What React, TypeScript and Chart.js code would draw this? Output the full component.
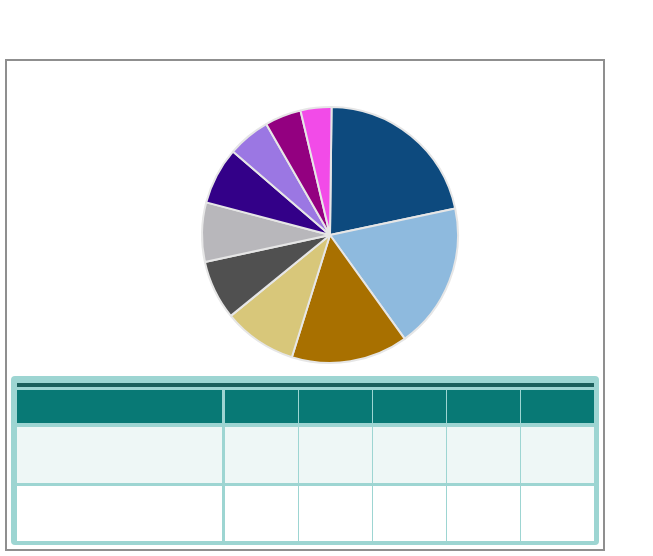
import React, { useEffect, useRef } from "react";
import { Chart, registerables } from "chart.js";

Chart.register(...registerables);

const categories = ["A", "B", "C", "D", "E", "F", "G", "H", "I", "J"];
const values = [21.5, 18.4, 14.75, 9.3, 7.5, 7.5, 7.2, 5.4, 4.6, 3.9];
const colors = [
  "#0D4A7E",
  "#8EBADE",
  "#A87000",
  "#D8C77A",
  "#505050",
  "#B8B7BB",
  "#330088",
  "#9B77E3",
  "#930080",
  "#F24BE8",
];

const tableColumns = [
  { left: 17, width: 205 },
  { left: 225, width: 73 },
  { left: 299, width: 73 },
  { left: 373, width: 73 },
  { left: 447, width: 73 },
  { left: 521, width: 73 },
];

const tableRows = [
  { top: 390, height: 33, bg: "#087975" },
  { top: 427, height: 56, bg: "#EEF7F6" },
  { top: 486, height: 55, bg: "#FFFFFF" },
];

export default function App() {
  const ref = useRef<HTMLCanvasElement | null>(null);

  useEffect(() => {
    if (!ref.current) return;
    const chart = new Chart(ref.current, {
      type: "pie",
      data: {
        labels: categories,
        datasets: [
          {
            data: values,
            backgroundColor: colors,
            borderColor: "#E6E6E6",
            borderWidth: 2,
          },
        ],
      },
      options: {
        responsive: false,
        animation: false,
        rotation: 0.7,
        layout: { padding: 1 },
        plugins: {
          legend: { display: false },
          tooltip: { enabled: false },
          title: { display: false },
        },
      },
    });
    return () => chart.destroy();
  }, []);

  return (
    <div
      style={{
        position: "fixed",
        left: 0,
        top: 0,
        width: 653,
        height: 556,
        background: "#fff",
        overflow: "hidden",
      }}
    >
      <div
        style={{
          position: "absolute",
          left: 5,
          top: 59,
          width: 600,
          height: 492,
          boxSizing: "border-box",
          border: "2px solid #8F8F8F",
        }}
      />
      <canvas
        ref={ref}
        width={260}
        height={260}
        style={{ position: "absolute", left: 200, top: 105, width: 260, height: 260 }}
      />
      <div
        style={{
          position: "absolute",
          left: 11,
          top: 376,
          width: 588,
          height: 169,
          background: "#9DD5D2",
          borderRadius: 4,
        }}
      />
      <div
        style={{
          position: "absolute",
          left: 17,
          top: 383,
          width: 577,
          height: 4,
          background: "#1B5F5C",
        }}
      />
      {tableRows.map((r, ri) =>
        tableColumns.map((c, ci) => (
          <div
            key={ri + "-" + ci}
            style={{
              position: "absolute",
              left: c.left,
              top: r.top,
              width: c.width,
              height: r.height,
              background: r.bg,
            }}
          />
        ))
      )}
    </div>
  );
}
